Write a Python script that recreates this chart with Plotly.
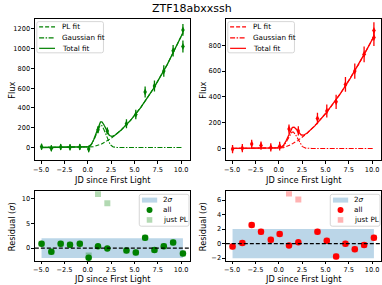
import numpy as np
import plotly.graph_objects as go

# ---------------- data ----------------
t_obs = [-4.95, -3.9, -2.9, -1.9, -0.85, 0.1, 1.1, 2.1, 4.15, 5.15, 6.15, 7.15, 8.15, 9.15, 10.2]
t_top = t_obs + [10.2]

g_flux = [8, -8, 5, 3, 5, -15, 180, 168, 240, 335, 562, 622, 775, 980, 1190, 1022]
g_err = [30, 30, 30, 30, 30, 32, 35, 35, 45, 48, 55, 56, 58, 58, 60, 60]
r_flux = [-5, 2, 35, 22, 8, 18, 150, 136, 232, 291, 362, 497, 600, 730, 915, 860]
r_err = [32, 32, 32, 32, 32, 34, 36, 36, 45, 50, 55, 58, 60, 62, 65, 65]

g_res_all = [0.87, -0.73, 0.9, 0.67, 0.87, -1.93, 0.4, -0.07, -0.47, -0.87, 2.07, -0.4, 0.4, 1.13, -1.07]
g_res_pl = [0.87, -0.73, 0.9, 0.67, 0.87, -1.5, 10.87, 9.0, -0.47, -0.87, 2.07, -0.4, 0.4, 1.13, -1.07]
r_res_all = [-0.4, 0.1, 2.56, 1.64, 0.55, 1.33, -0.27, 0.19, 1.64, 0.41, -1.78, 0.0, -0.77, -0.18, 0.82]
r_res_pl = [-0.4, 0.1, 2.56, 1.64, 0.55, 1.33, 6.9, 6.08, 1.64, 0.41, -1.78, 0.0, -0.77, -0.18, 0.82]

# fit parameters (flux of power law at t=10, index, gaussian amp/center/width)
g_pl_amp, g_pl_idx, g_ga_amp, g_ga_mu, g_ga_sig = 1120, 1.8, 227, 1.4, 0.5
r_pl_amp, r_pl_idx, r_ga_amp, r_ga_mu, r_ga_sig = 843, 1.65, 128, 1.5, 0.5

x_ticks = [-5, -2.5, 0, 2.5, 5, 7.5, 10]
g_yticks = [0, 200, 400, 600, 800, 1000, 1200]
r_yticks = [0, 200, 400, 600, 800]
g_rticks = [0, 5, 10]
r_rticks = [-2, 0, 2, 4, 6]

GREEN = "#008000"
RED = "#ff0000"
W, H = 382, 285
FONT = "DejaVu Sans"


def X(px):
    return px / W


def Y(py):
    return 1 - py / H


t_fit = np.linspace(min(t_obs), max(t_obs), 500)


def pl(t, a, n):
    tt = np.clip(t, 0, None)
    return a * (tt / 10.0) ** n


def gauss(t, a, mu, s):
    return a * np.exp(-0.5 * ((t - mu) / s) ** 2)


fig = go.Figure()

panels = [
    ("x", "y", GREEN, g_flux, g_err, (g_pl_amp, g_pl_idx), (g_ga_amp, g_ga_mu, g_ga_sig)),
    ("x2", "y2", RED, r_flux, r_err, (r_pl_amp, r_pl_idx), (r_ga_amp, r_ga_mu, r_ga_sig)),
]
for xa, ya, col, flux, err, plp, gap in panels:
    fig.add_trace(go.Scatter(
        x=t_top, y=flux, mode="markers", xaxis=xa, yaxis=ya, showlegend=False,
        marker=dict(symbol="diamond-tall", size=5, color=col),
        error_y=dict(type="data", array=err, color=col, thickness=1.3, width=0)))
    p = pl(t_fit, *plp)
    g = gauss(t_fit, *gap)
    fig.add_trace(go.Scatter(x=t_fit, y=p, mode="lines", xaxis=xa, yaxis=ya, name="PL fit",
                             showlegend=False, line=dict(color=col, width=1.1, dash="4px,2px")))
    fig.add_trace(go.Scatter(x=t_fit, y=g, mode="lines", xaxis=xa, yaxis=ya, name="Gaussian fit",
                             showlegend=False, line=dict(color=col, width=1.1, dash="5px,1.5px,1.5px,1.5px")))
    fig.add_trace(go.Scatter(x=t_fit, y=p + g, mode="lines", xaxis=xa, yaxis=ya, name="Total fit",
                             showlegend=False, line=dict(color=col, width=1.3)))

light = {GREEN: "rgba(0,128,0,0.3)", RED: "rgba(255,0,0,0.3)"}
rpanels = [("x3", "y3", GREEN, g_res_all, g_res_pl), ("x4", "y4", RED, r_res_all, r_res_pl)]
for xa, ya, col, rall, rpl in rpanels:
    t0, t1 = min(t_obs), max(t_obs)
    fig.add_trace(go.Scatter(x=[t0, t1, t1, t0, t0], y=[-2, -2, 2, 2, -2], fill="toself",
                             fillcolor="rgba(31,119,180,0.3)", line=dict(width=0), mode="lines",
                             xaxis=xa, yaxis=ya, showlegend=False, name="2σ"))
    fig.add_trace(go.Scatter(x=t_obs, y=rpl, mode="markers", xaxis=xa, yaxis=ya, name="just PL",
                             showlegend=False, marker=dict(symbol="square", size=6, color=light[col])))
    fig.add_trace(go.Scatter(x=t_obs, y=rall, mode="markers", xaxis=xa, yaxis=ya, name="all",
                             showlegend=False, marker=dict(symbol="circle", size=6.5, color=col)))

xr = [-5.67, 10.96]
axis_common = dict(showline=True, mirror=True, linecolor="black", linewidth=0.8, ticks="outside",
                   ticklen=2.5, tickwidth=0.8, tickcolor="black", showgrid=False, zeroline=False,
                   tickfont=dict(size=6.6, color="black", family=FONT))
xl = [X(33), X(189)]
xrgt = [X(225), X(381)]
ytop = [Y(161), Y(19)]
ybot = [Y(262), Y(192)]
fig.update_layout(
    width=W, height=H, margin=dict(l=0, r=0, t=0, b=0),
    paper_bgcolor="white", plot_bgcolor="white", font=dict(family=FONT, color="black"),
    xaxis=dict(domain=xl, anchor="y", range=xr, tickvals=x_ticks, tickformat=".1f", **axis_common),
    yaxis=dict(domain=ytop, anchor="x", range=[-131, 1301], tickvals=g_yticks, **axis_common),
    xaxis2=dict(domain=xrgt, anchor="y2", range=xr, tickvals=x_ticks, tickformat=".1f", **axis_common),
    yaxis2=dict(domain=ytop, anchor="x2", range=[-93, 1005], tickvals=r_yticks, **axis_common),
    xaxis3=dict(domain=xl, anchor="y3", range=xr, tickvals=x_ticks, tickformat=".1f", **axis_common),
    yaxis3=dict(domain=ybot, anchor="x3", range=[-2.6, 11.4], tickvals=g_rticks, **axis_common),
    xaxis4=dict(domain=xrgt, anchor="y4", range=xr, tickvals=x_ticks, tickformat=".1f", **axis_common),
    yaxis4=dict(domain=ybot, anchor="x4", range=[-2.4, 7.2], tickvals=r_rticks, **axis_common),
)

shapes = []
annots = []

# zero lines in residual panels
for xa, ya in [("x3", "y3"), ("x4", "y4")]:
    shapes.append(dict(type="line", xref=xa + " domain", yref=ya, x0=0, x1=1, y0=0, y1=0,
                       line=dict(color="black", width=1.1, dash="4px,2px"), layer="above"))


def rbox(x0, y0, x1, y1, r=2.0):
    a0, a1 = X(x0), X(x1)
    b0, b1 = Y(y0), Y(y1)  # b0 top, b1 bottom
    rx, ry = r / W, r / H
    path = (f"M {a0+rx},{b0} L {a1-rx},{b0} Q {a1},{b0} {a1},{b0-ry} "
            f"L {a1},{b1+ry} Q {a1},{b1} {a1-rx},{b1} L {a0+rx},{b1} "
            f"Q {a0},{b1} {a0},{b1+ry} L {a0},{b0-ry} Q {a0},{b0} {a0+rx},{b0} Z")
    return dict(type="path", xref="paper", yref="paper", path=path,
                line=dict(color="#cccccc", width=0.8), fillcolor="rgba(255,255,255,0.8)", layer="above")


def text(px, py, s, size=7.2, xanchor="left", angle=0):
    annots.append(dict(x=X(px), y=Y(py), xref="paper", yref="paper", text=s, showarrow=False,
                       xanchor=xanchor, yanchor="middle", textangle=angle,
                       font=dict(size=size, color="black", family=FONT)))


# top legends
for dx, col in [(0, GREEN), (192, RED)]:
    shapes.append(rbox(35 + dx, 21.7, 102 + dx, 53))
    rows = [(27, "PL fit", "4px,2px"), (38, "Gaussian fit", "5px,1.5px,1.5px,1.5px"), (48.5, "Total fit", "solid")]
    for py, lab, d in rows:
        shapes.append(dict(type="line", xref="paper", yref="paper", x0=X(37.3 + dx), x1=X(53.3 + dx),
                           y0=Y(py), y1=Y(py), line=dict(color=col, width=1.2, dash=d), layer="above"))
        text(58.5 + dx, py, lab)

# residual legends
for dx, col in [(0, GREEN), (192, RED)]:
    shapes.append(rbox(138 + dx, 195, 188 + dx, 227))
    shapes.append(dict(type="rect", xref="paper", yref="paper", x0=X(140.7 + dx), x1=X(156 + dx),
                       y0=Y(203.3), y1=Y(198.3), line=dict(width=0), fillcolor="rgba(31,119,180,0.3)",
                       layer="above"))
    text(160 + dx, 200.7, "2<i>σ</i>")
    shapes.append(dict(type="circle", xref="paper", yref="paper", x0=X(145.3 + dx), x1=X(151.3 + dx),
                       y0=Y(213.7), y1=Y(207.7), line=dict(width=0), fillcolor=col, layer="above"))
    text(160 + dx, 210.7, "all")
    shapes.append(dict(type="rect", xref="paper", yref="paper", x0=X(145.5 + dx), x1=X(151.1 + dx),
                       y0=Y(223.5), y1=Y(217.9), line=dict(width=0), fillcolor=light[col], layer="above"))
    text(160 + dx, 220.7, "just PL")

# titles / axis labels
text(191, 9, "ZTF18abxxssh", size=11, xanchor="center")
for dx in [0, 192]:
    text(111 + dx, 180.3, "JD since First Light", size=8.2, xanchor="center")
    text(111 + dx, 280.3, "JD since First Light", size=8.2, xanchor="center")
    text(10 + dx, 90, "Flux", size=8.2, xanchor="center", angle=-90)
    text(10 + dx, 227, "Residual (<i>σ</i>)", size=8.2, xanchor="center", angle=-90)

fig.update_layout(shapes=shapes, annotations=annots)
fig.write_html("out.html", config={"displayModeBar": False},
               post_script="document.body.style.margin='0';document.body.style.overflow='hidden';")
